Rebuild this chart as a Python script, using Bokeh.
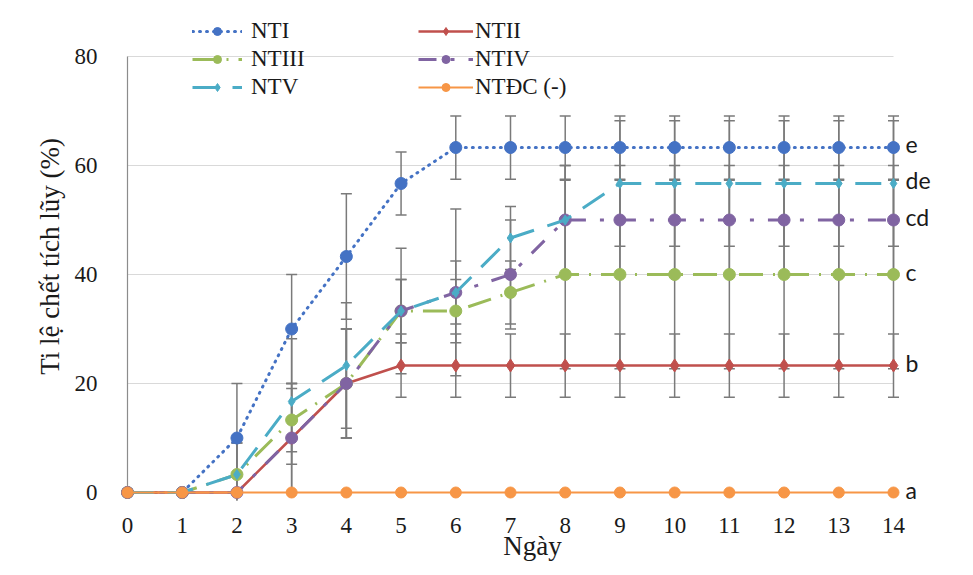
from bokeh.plotting import figure
from bokeh.models import (Range1d, FixedTicker, ColumnDataSource, Whisker, TeeHead,
                          Legend, LegendItem)
from bokeh.core.properties import value
from bokeh.embed import file_html
from bokeh.resources import INLINE

# ---------------- data ----------------
days = list(range(15))
x_ticks = list(range(15))
y_ticks = [0, 20, 40, 60, 80]

nti_vals = [0, 0, 10, 30, 43.3, 56.7, 63.3, 63.3, 63.3, 63.3, 63.3, 63.3, 63.3, 63.3, 63.3]
nti_err = [0, 0, 10, 10, 11.5, 5.8, 5.8, 5.8, 5.8, 5.8, 5.8, 5.8, 5.8, 5.8, 5.8]

ntii_vals = [0, 0, 0, 10, 20, 23.3, 23.3, 23.3, 23.3, 23.3, 23.3, 23.3, 23.3, 23.3, 23.3]
ntii_err = [0, 0, 0, 10, 10, 5.8, 5.8, 5.8, 5.8, 5.8, 5.8, 5.8, 5.8, 5.8, 5.8]

ntiii_vals = [0, 0, 3.3, 13.3, 20, 33.3, 33.3, 36.7, 40, 40, 40, 40, 40, 40, 40]
ntiii_err = [0, 0, 5.8, 5.8, 10, 5.8, 5.8, 5.8, 17.3, 17.3, 17.3, 17.3, 17.3, 17.3, 17.3]

ntiv_vals = [0, 0, 0, 10, 20, 33.3, 36.7, 40, 50, 50, 50, 50, 50, 50, 50]
ntiv_err = [0, 0, 0, 10, 10, 5.8, 5.8, 10, 10, 10, 10, 10, 10, 10, 10]

ntv_vals = [0, 0, 3.3, 16.7, 23.3, 33.3, 36.7, 46.7, 50, 56.7, 56.7, 56.7, 56.7, 56.7, 56.7]
ntv_err = [0, 0, 5.8, 11.5, 11.5, 11.5, 15.3, 5.8, 10, 11.5, 11.5, 11.5, 11.5, 11.5, 11.5]

ntdc_vals = [0] * 15
ntdc_err = [0] * 15

series_names = ["NTI", "NTII", "NTIII", "NTIV", "NTV", "NTĐC (-)"]
group_letters = ["e", "de", "cd", "c", "b", "a"]

# ---------------- figure ----------------
W, H = 957, 567
BL, BR, BT, BB = 115, 8, 12, 67
PX_PER_DAY = 766 / 14.0
PX_PER_UNIT = 436 / 80.0
frame_w = W - BL - BR
x0 = -12 / PX_PER_DAY
y0 = -8 / PX_PER_UNIT

p = figure(width=W, height=H, output_backend="svg", toolbar_location=None,
           x_range=Range1d(x0, x0 + frame_w / PX_PER_DAY),
           y_range=Range1d(y0, 80 + 44 / PX_PER_UNIT),
           min_border_left=BL, min_border_right=BR, min_border_top=BT,
           min_border_bottom=BB)
p.outline_line_color = None
p.xgrid.visible = False
p.ygrid.visible = False
p.background_fill_color = "white"
p.border_fill_color = "white"

serif = "Liberation Serif"
for ax in (p.xaxis[0], p.yaxis[0]):
    ax.axis_line_color = None
    ax.major_tick_line_color = None
    ax.minor_tick_line_color = None
    ax.major_label_text_font = serif
    ax.major_label_text_font_size = "23px"
    ax.major_label_text_color = "#1a1a1a"
    ax.axis_label_text_font = serif
    ax.axis_label_text_font_size = "27px"
    ax.axis_label_text_font_style = "normal"
    ax.axis_label_text_color = "#1a1a1a"

p.xaxis.ticker = FixedTicker(ticks=x_ticks)
p.yaxis.ticker = FixedTicker(ticks=y_ticks)
p.xaxis.major_label_standoff = 11
p.yaxis.major_label_standoff = 12
p.xaxis.axis_label = "Ngày"
p.yaxis.axis_label = "Ti lệ chết tích lũy (%)"
p.xaxis.axis_label_standoff = -5
p.yaxis.axis_label_standoff = 7

# gridlines (only over the data span) and axis lines
grid_y = [t for t in y_ticks if t > 0]
g = p.segment(x0=[days[0]] * len(grid_y), x1=[days[-1]] * len(grid_y), y0=grid_y, y1=grid_y,
              line_color="#d9d9d9", line_width=1.2)
g.level = "underlay"
ax_r = p.segment(x0=[days[0], days[0]], x1=[days[0], days[-1]], y0=[y_ticks[0], y_ticks[0]],
                 y1=[y_ticks[-1], y_ticks[0]], line_color="#8c8c8c", line_width=1.2)
ax_r.level = "underlay"

# error bars
all_vals = [nti_vals, ntii_vals, ntiii_vals, ntiv_vals, ntv_vals, ntdc_vals]
all_errs = [nti_err, ntii_err, ntiii_err, ntiv_err, ntv_err, ntdc_err]
for vals, errs in zip(all_vals, all_errs):
    xs = [d for d, e in zip(days, errs) if e > 0]
    up = [v + e for v, e in zip(vals, errs) if e > 0]
    lo = [v - e for v, e in zip(vals, errs) if e > 0]
    if not xs:
        continue
    src = ColumnDataSource(dict(x=xs, upper=up, lower=lo))
    w = Whisker(base="x", upper="upper", lower="lower", source=src,
                line_color="#7a7a7a", line_width=1.5,
                upper_head=TeeHead(size=11, line_color="#7a7a7a", line_width=1.5),
                lower_head=TeeHead(size=11, line_color="#7a7a7a", line_width=1.5))
    w.level = "underlay"
    p.add_layout(w)

styles = [
    dict(color="#4472C4", dash="1 6", width=3.0, cap="round", marker="circle", size=12),
    dict(color="#C0504D", dash="solid", width=2.6, cap="butt", marker="diamond", size=13),
    dict(color="#9BBB59", dash="24 10 2 10", width=3.0, cap="butt", marker="circle", size=12),
    dict(color="#8064A2", dash="18 14 4 14", width=3.0, cap="butt", marker="circle", size=12),
    dict(color="#4BACC6", dash="26 14", width=3.0, cap="butt", marker="diamond", size=10),
    dict(color="#F79646", dash="solid", width=1.8, cap="butt", marker="circle", size=11),
]

items = []
for name, vals, st in zip(series_names, all_vals, styles):
    lr = p.line(days, vals, line_color=st["color"], line_width=st["width"],
                line_dash=st["dash"], line_cap=st["cap"])
    mr = p.scatter(days, vals, marker=st["marker"], size=st["size"],
                   fill_color=st["color"], line_color=st["color"])
    items.append(LegendItem(label=name, renderers=[lr, mr]))

# group letters at the right end
ends = [nti_vals[-1], ntv_vals[-1], ntiv_vals[-1], ntiii_vals[-1], ntii_vals[-1], ntdc_vals[-1]]
p.text(x=[days[-1]] * len(ends), y=ends, text=group_letters, x_offset=12, y_offset=-3,
       text_font=value("Lato"), text_font_size="23px", text_color="#1a1a1a",
       text_baseline="middle", text_align="left")

# legends: two columns
col1 = [items[0], items[2], items[4]]
col2 = [items[1], items[3], items[5]]
for its, xloc, gw, stand in ((col1, 77, 50, 9), (col2, 303, 55, 2)):
    leg = Legend(items=its, location=(xloc, 400), orientation="vertical",
                 glyph_width=gw, glyph_height=20, label_height=23, label_standoff=stand,
                 spacing=2, padding=0, margin=0,
                 label_text_font=serif, label_text_font_size="23px",
                 label_text_color="#1a1a1a", border_line_color=None,
                 background_fill_alpha=0)
    p.add_layout(leg)

open("out.html", "w").write(file_html(p, INLINE))
